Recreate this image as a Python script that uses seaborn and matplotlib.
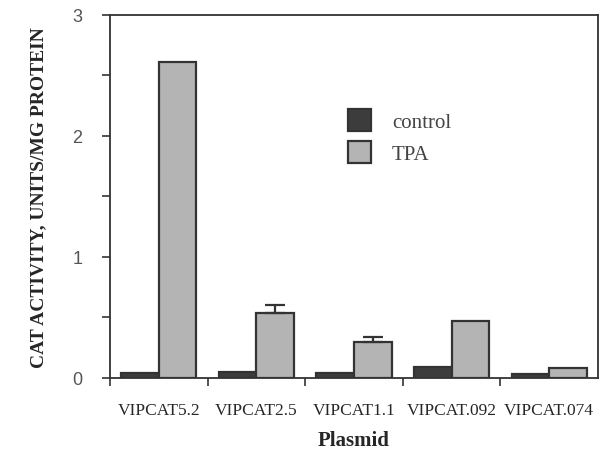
import numpy as np
import pandas as pd
import matplotlib
matplotlib.use("Agg")
import matplotlib.pyplot as plt
import seaborn as sns
from matplotlib.ticker import MultipleLocator, FixedLocator, NullFormatter

# data
plasmids = ["VIPCAT5.2", "VIPCAT2.5", "VIPCAT1.1", "VIPCAT.092", "VIPCAT.074"]
control = [0.04, 0.05, 0.04, 0.09, 0.03]
tpa = [2.61, 0.54, 0.30, 0.47, 0.08]
tpa_err = [0.0, 0.06, 0.04, 0.0, 0.0]

df = pd.DataFrame({
    "Plasmid": plasmids * 2,
    "value": control + tpa,
    "treatment": ["control"] * 5 + ["TPA"] * 5,
})

sns.set_style("ticks")
fig = plt.figure(figsize=(6.01, 4.56), dpi=100)
ax = fig.add_axes([0.183, 0.169, 0.812, 0.796])

edge = "#333333"
sns.barplot(data=df, x="Plasmid", y="value", hue="treatment",
            palette={"control": "#3c3c3c", "TPA": "#b4b4b4"},
            width=0.77, edgecolor=edge, linewidth=1.6, errorbar=None,
            ax=ax)

# upward error bars on TPA bars
tpa_bars = ax.containers[1]
for bar, e in zip(tpa_bars, tpa_err):
    if e > 0:
        cx = bar.get_x() + bar.get_width() / 2
        ax.errorbar(cx, bar.get_height(), yerr=[[0], [e]], fmt="none",
                    ecolor=edge, elinewidth=1.6, capsize=7, capthick=1.6)

ax.set_xlim(-0.5, 4.5)
ax.set_ylim(0, 3)

# y axis
ax.yaxis.set_major_locator(MultipleLocator(1))
ax.yaxis.set_minor_locator(MultipleLocator(0.5))
ax.tick_params(axis="y", which="major", length=6, width=1.2, color=edge,
               labelsize=13, labelcolor="#555555", pad=14)
ax.tick_params(axis="y", which="minor", length=6, width=1.2, color=edge)
for lab in ax.get_yticklabels():
    lab.set_family("Liberation Sans")

# x axis: ticks at group boundaries, labels centred on groups
ax.xaxis.set_minor_locator(FixedLocator(np.arange(-0.5, 4.0, 1.0)))
ax.xaxis.set_minor_formatter(NullFormatter())
ax.tick_params(axis="x", which="minor", length=6, width=1.2, color=edge)
ax.tick_params(axis="x", which="major", length=0, pad=17)
ax.set_xticks(range(len(plasmids)))
ax.set_xticklabels(plasmids, family="Liberation Serif", fontsize=12.5)

for s in ax.spines.values():
    s.set_visible(True)
    s.set_color(edge)
    s.set_linewidth(1.3)

ax.set_xlabel("Plasmid", family="Liberation Serif", fontweight="bold",
              fontsize=15, labelpad=9)
ax.set_ylabel("CAT ACTIVITY, UNITS/MG PROTEIN", family="Liberation Serif",
              fontweight="bold", fontsize=14, labelpad=18)

leg = ax.legend(loc="upper left", bbox_to_anchor=(0.488, 0.74), frameon=False,
                prop={"family": "Liberation Serif", "size": 15},
                handlelength=1.1, handleheight=1.2, handletextpad=1.0,
                labelspacing=0.45, borderpad=0, borderaxespad=0)
for t in leg.get_texts():
    t.set_color("#444444")

fig.savefig("out.png", dpi=100)
